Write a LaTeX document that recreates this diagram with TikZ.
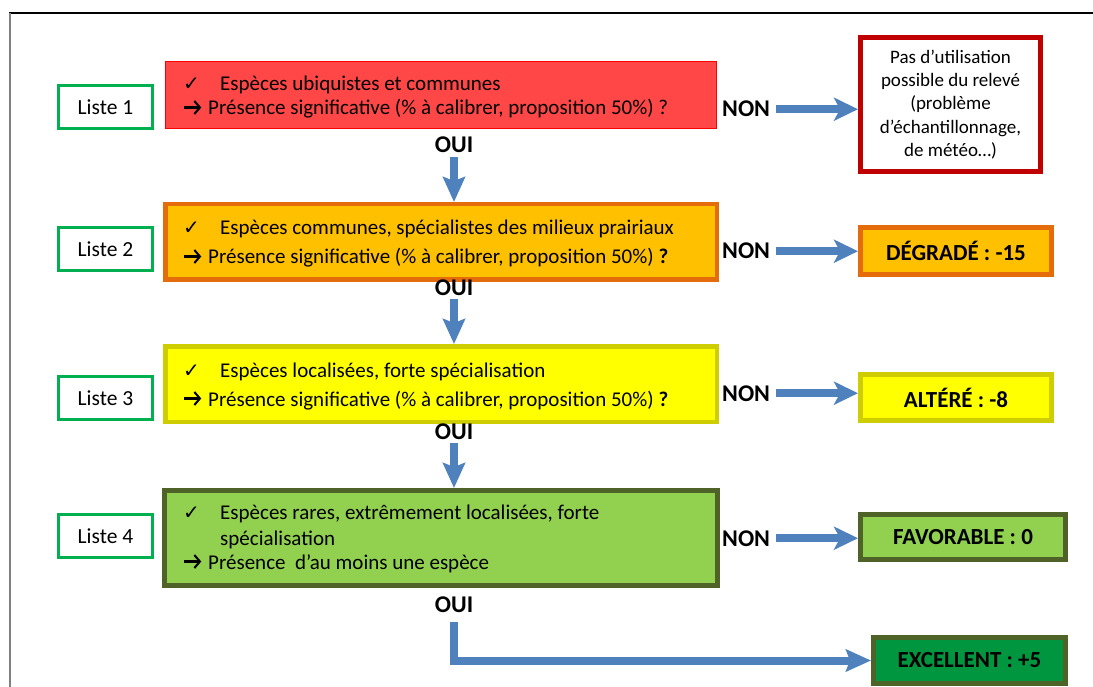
\documentclass[tikz,border=0pt]{standalone}
\usepackage{fontspec}
\setmainfont{Carlito}
\newfontfamily\dejavu{DejaVu Sans}
\usetikzlibrary{arrows.meta}
\definecolor{redfill}{HTML}{FF4747}
\definecolor{orangefill}{HTML}{FFC000}
\definecolor{orangeline}{HTML}{E46C0A}
\definecolor{yellowfill}{HTML}{FFFF00}
\definecolor{yellowline}{HTML}{CDCD00}
\definecolor{greenfill}{HTML}{92D050}
\definecolor{greenline}{HTML}{4F6228}
\definecolor{excgreen}{HTML}{00953F}
\definecolor{pasred}{HTML}{C00000}
\definecolor{listegreen}{HTML}{00B050}
\definecolor{arrowblue}{HTML}{4F81BD}
\newcommand\mycheck{\makebox[37pt][l]{\dejavu\fontsize{20}{20}\selectfont ✓}}
\newcommand\myarrow{\makebox[25pt][l]{\tikz[baseline=-7.5pt]\draw[line width=2.1pt, line cap=butt, -{Straight Barb[length=5.5pt,width=13pt,line width=2.1pt]}] (0pt,0pt) -- (17pt,0pt);}}
\tikzset{
  liste/.style={draw=listegreen, line width=3pt, minimum width=94pt, minimum height=43pt, inner sep=0pt, font=\fontsize{21.5}{26}\selectfont},
  mainbox/.style={inner sep=0pt},
  txt/.style={anchor=base west, inner sep=0pt, font=\fontsize{21}{25}\selectfont},
  lbl/.style={inner sep=0pt, font=\fontsize{24}{28}\selectfont\bfseries},
  res/.style={inner sep=0pt, line width=5pt, font=\fontsize{23}{27}\selectfont\bfseries},
  harr/.style={draw=arrowblue, line width=8pt, shorten <=6pt, -{Stealth[length=24pt,width=23pt,inset=6pt]}},
  varr/.style={draw=arrowblue, line width=8pt, shorten <=4pt, -{Stealth[length=25pt,width=22pt,inset=4pt]}}
}
\begin{document}
\begin{tikzpicture}[x=1pt,y=-1pt]
\useasboundingbox (0,0) rectangle (1093,687);
% frame
\draw[black, line width=1.5pt] (9,13) -- (1100,13);
\draw[gray, line width=1.5pt] (10,13) -- (10,700);
% liste boxes
\node[liste] (l1) at (105.5,107) {Liste 1};
\node[liste] (l2) at (105.5,249.5) {Liste 2};
\node[liste] (l3) at (105.5,398) {Liste 3};
\node[liste] (l4) at (105.5,536) {Liste 4};
% main boxes
\node[mainbox, fill=redfill, draw=red, line width=1pt, minimum width=551pt, minimum height=67pt] (b1) at (441,95) {};
\node[mainbox, fill=orangefill, draw=orangeline, line width=4.5pt, minimum width=551.5pt, minimum height=75.5pt] (b2) at (441,242) {};
\node[mainbox, fill=yellowfill, draw=yellowline, line width=4.5pt, minimum width=551.5pt, minimum height=75.5pt] (b3) at (441,384) {};
\node[mainbox, fill=greenfill, draw=greenline, line width=5pt, minimum width=553pt, minimum height=95pt] (b4) at (441,538) {};
% texts
\node[txt] (t1a) at (183,91) {\mycheck Espèces ubiquistes et communes};
\node[txt] (t1b) at (183,115) {\myarrow Présence significative (\% à calibrer, proposition 50\%) ?};
\node[txt] (t2a) at (183,235) {\mycheck Espèces communes, spécialistes des milieux prairiaux};
\node[txt] (t2b) at (183,264) {\myarrow Présence significative (\% à calibrer, proposition 50\%) \textbf{?}};
\node[txt] (t3a) at (183,377) {\mycheck Espèces localisées, forte spécialisation};
\node[txt] (t3b) at (183,406) {\myarrow Présence significative (\% à calibrer, proposition 50\%) \textbf{?}};
\node[txt] (t4a) at (183,519) {\mycheck Espèces rares, extrêmement localisées, forte};
\node[txt] (t4b) at (220,545) {spécialisation};
\node[txt] (t4c) at (183,569) {\myarrow Présence\ \ d’au moins une espèce};
% result boxes
\node[draw=pasred, line width=5pt, fill=white, inner sep=0pt, minimum width=180pt, minimum height=134pt, align=center, font=\fontsize{19}{23.3}\selectfont] (pas) at (950.5,104.5) {Pas d’utilisation\\possible du relevé\\(problème\\d’échantillonnage,\\de météo…)};
\node[res, fill=orangefill, draw=orangeline, minimum width=191pt, minimum height=47pt] (deg) at (956,251) {DÉGRADÉ : -15};
\node[res, fill=yellowfill, draw=yellowline, minimum width=191pt, minimum height=46pt] (alt) at (956,397.5) {ALTÉRÉ : -8};
\node[res, fill=greenfill, draw=greenline, minimum width=205pt, minimum height=45pt] (fav) at (963,537) {FAVORABLE : 0};
\node[res, fill=excgreen, draw=greenline, minimum width=192pt, minimum height=46pt] (exc) at (969.5,660.5) {EXCELLENT : +5};
% labels
\node[lbl, anchor=base west] (n1) at (722,117) {NON};
\node[lbl, anchor=base west] (n2) at (722,259) {NON};
\node[lbl, anchor=base west] (n3) at (722,401) {NON};
\node[lbl, anchor=base west] (n4) at (722,546) {NON};
\node[lbl, anchor=base] (o1) at (454,153) {OUI};
\node[lbl, anchor=base] (o2) at (454,295) {OUI};
\node[lbl, anchor=base] (o3) at (454,439) {OUI};
\node[lbl, anchor=base] (o4) at (454,612) {OUI};
% arrows
\draw[harr] (n1.east) -- (n1.east -| pas.west);
\draw[harr] (n2.east) -- (n2.east -| deg.west);
\draw[harr] (n3.east) -- (n3.east -| alt.west);
\draw[harr] (n4.east) -- (n4.east -| fav.west);
\draw[varr] (o1.south) -- (o1.south |- b2.north);
\draw[varr] (o2.south) -- (o2.south |- b3.north);
\draw[varr] (o3.south) -- (o3.south |- b4.north);
\draw[varr, shorten <=10pt] (o4.south) |- (exc.west);
\end{tikzpicture}
\end{document}
